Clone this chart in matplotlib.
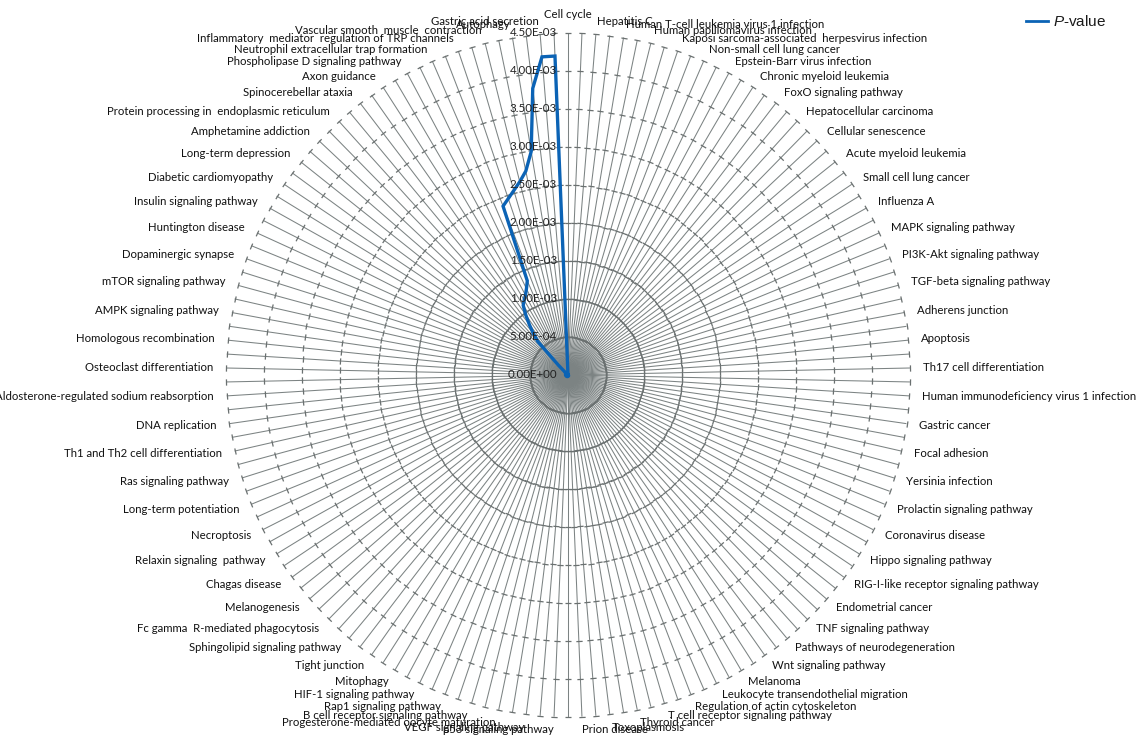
import numpy as np
import matplotlib
matplotlib.use("Agg")
import matplotlib.pyplot as plt
from matplotlib.lines import Line2D

plt.rcParams['mathtext.fontset'] = 'custom'
plt.rcParams['mathtext.it'] = 'Liberation Sans:italic'
plt.rcParams['mathtext.rm'] = 'Liberation Sans'

# Pathway labels shown on the chart (every other category is labelled)
labeled_pathways = [
    "Cell cycle", "Hepatitis C", "Human T-cell leukemia virus 1 infection",
    "Human papillomavirus infection", "Kaposi sarcoma-associated  herpesvirus infection",
    "Non-small cell lung cancer", "Epstein-Barr virus infection", "Chronic myeloid leukemia",
    "FoxO signaling pathway", "Hepatocellular carcinoma", "Cellular senescence",
    "Acute myeloid leukemia", "Small cell lung cancer", "Influenza A",
    "MAPK signaling pathway", "PI3K-Akt signaling pathway", "TGF-beta signaling pathway",
    "Adherens junction", "Apoptosis", "Th17 cell differentiation",
    "Human immunodeficiency virus 1 infection", "Gastric cancer", "Focal adhesion",
    "Yersinia infection", "Prolactin signaling pathway", "Coronavirus disease",
    "Hippo signaling pathway", "RIG-I-like receptor signaling pathway", "Endometrial cancer",
    "TNF signaling pathway", "Pathways of neurodegeneration", "Wnt signaling pathway",
    "Melanoma", "Leukocyte transendothelial migration", "Regulation of actin cytoskeleton",
    "T cell receptor signaling pathway", "Thyroid cancer", "Toxoplasmosis", "Prion disease",
    "p53 signaling pathway", "VEGF signaling pathway", "Progesterone-mediated oocyte maturation",
    "B cell receptor signaling pathway", "Rap1 signaling pathway", "HIF-1 signaling pathway",
    "Mitophagy", "Tight junction", "Sphingolipid signaling pathway",
    "Fc gamma  R-mediated phagocytosis", "Melanogenesis", "Chagas disease",
    "Relaxin signaling  pathway", "Necroptosis", "Long-term potentiation",
    "Ras signaling pathway", "Th1 and Th2 cell differentiation", "DNA replication",
    "Aldosterone-regulated sodium reabsorption", "Osteoclast differentiation",
    "Homologous recombination", "AMPK signaling pathway", "mTOR signaling pathway",
    "Dopaminergic synapse", "Huntington disease", "Insulin signaling pathway",
    "Diabetic cardiomyopathy", "Long-term depression", "Amphetamine addiction",
    "Protein processing in  endoplasmic reticulum", "Spinocerebellar ataxia", "Axon guidance",
    "Phospholipase D signaling pathway", "Neutrophil extracellular trap formation",
    "Inflammatory  mediator  regulation of TRP channels",
    "Vascular smooth  muscle  contraction", "Autophagy", "Gastric acid secretion",
]

# P-values for all 154 categories (most are ~0)
pvalues = [
    1.0e-11, 2.0e-10, 8.0e-10, 2.0e-09, 4.0e-09, 8.0e-09, 1.0e-08, 2.0e-08, 3.0e-08, 4.0e-08,
    6.0e-08, 8.0e-08, 1.0e-07, 1.0e-07, 2.0e-07, 2.0e-07, 2.0e-07, 3.0e-07, 3.0e-07, 4.0e-07,
    5.0e-07, 5.0e-07, 6.0e-07, 7.0e-07, 8.0e-07, 9.0e-07, 1.0e-06, 1.0e-06, 1.0e-06, 1.0e-06,
    2.0e-06, 2.0e-06, 2.0e-06, 2.0e-06, 2.0e-06, 3.0e-06, 3.0e-06, 3.0e-06, 3.0e-06, 4.0e-06,
    4.0e-06, 4.0e-06, 4.0e-06, 5.0e-06, 5.0e-06, 5.0e-06, 6.0e-06, 6.0e-06, 6.0e-06, 7.0e-06,
    7.0e-06, 7.0e-06, 8.0e-06, 8.0e-06, 9.0e-06, 9.0e-06, 1.0e-05, 1.0e-05, 1.0e-05, 1.1e-05,
    1.1e-05, 1.2e-05, 1.2e-05, 1.3e-05, 1.3e-05, 1.4e-05, 1.4e-05, 1.5e-05, 1.5e-05, 1.6e-05,
    1.6e-05, 1.7e-05, 1.7e-05, 1.8e-05, 1.8e-05, 1.9e-05, 1.9e-05, 2.0e-05, 2.0e-05, 2.0e-05,
    2.1e-05, 2.1e-05, 2.1e-05, 2.2e-05, 2.2e-05, 2.2e-05, 2.3e-05, 2.3e-05, 2.3e-05, 2.4e-05,
    2.4e-05, 2.4e-05, 2.5e-05, 2.5e-05, 2.5e-05, 2.6e-05, 2.6e-05, 2.6e-05, 2.7e-05, 2.7e-05,
    2.7e-05, 2.8e-05, 2.8e-05, 2.8e-05, 2.9e-05, 2.9e-05, 2.9e-05, 3.0e-05, 3.0e-05, 3.0e-05,
    3.1e-05, 3.1e-05, 3.1e-05, 3.2e-05, 3.2e-05, 3.2e-05, 3.3e-05, 3.3e-05, 3.3e-05, 3.4e-05,
    3.4e-05, 3.4e-05, 3.5e-05, 3.5e-05, 3.5e-05, 3.6e-05, 3.6e-05, 3.7e-05, 3.8e-05, 3.9e-05,
    4.0e-05, 4.0e-05, 4.0e-05, 4.0e-05, 4.0e-05, 1.8e-04, 5.9e-04, 7.2e-04, 8.4e-04, 9.7e-04,
    1.09e-03, 1.14e-03, 1.19e-03, 1.26e-03, 1.35e-03, 2.38e-03, 2.45e-03, 2.53e-03, 2.62e-03, 2.74e-03,
    2.98e-03, 3.80e-03, 4.20e-03, 4.20e-03,
]

r_ticks = [0.0, 5.0e-4, 1.0e-3, 1.5e-3, 2.0e-3, 2.5e-3, 3.0e-3, 3.5e-3, 4.0e-3, 4.5e-3]
r_tick_labels = ["0.00E+00", "5.00E-04", "1.00E-03", "1.50E-03", "2.00E-03",
                 "2.50E-03", "3.00E-03", "3.50E-03", "4.00E-03", "4.50E-03"]

series_name = r"$\mathit{P}$-value"
line_color = "#0b63b5"
grid_color = "#7c8383"
tick_color = "#6a7070"
label_font = "Lato"

N = len(pvalues)
categories = [labeled_pathways[i // 2] if i % 2 == 0 else "" for i in range(N)]
theta = 2 * np.pi * np.arange(N) / N

fig = plt.figure(figsize=(11.47, 7.38), dpi=100)
ax = fig.add_axes([0.197, 0.0285, 0.5964, 0.9268], projection='polar')
ax.set_theta_zero_location('N')
ax.set_theta_direction(-1)
ax.set_ylim(0, r_ticks[-1])
ax.set_xticks(theta)
ax.set_xticklabels([])
ax.set_yticks(r_ticks[1:])
ax.set_yticklabels([])
ax.xaxis.grid(True, color=grid_color, lw=0.75)
ax.yaxis.grid(False)
ax.spines['polar'].set_visible(False)
ax.tick_params(length=0)
ax.set_facecolor('white')

# tick marks across each spoke at each major unit
for t in theta:
    deg = np.degrees(t)
    ax.plot([t] * (len(r_ticks) - 1), r_ticks[1:], ls='none',
            marker=(2, 0, 90 - deg), ms=4.5, mec=tick_color, mew=0.9,
            clip_on=False, zorder=2)

# series line (closed)
th_closed = np.append(theta, theta[0])
pv_closed = np.append(pvalues, pvalues[0])
ax.plot(th_closed, pv_closed, color=line_color, lw=2.4, zorder=5,
        solid_joinstyle='miter', clip_on=False)

# radial value labels along the top spoke
for r, lab in zip(r_ticks, r_tick_labels):
    ax.annotate(lab, xy=(0, r), xytext=(-8, 0), textcoords='offset points',
                ha='right', va='center', fontsize=8.3, color='#222222',
                family=label_font, zorder=6)

# category labels
R_lab = r_ticks[-1] * 355 / 342
for t, lab in zip(theta, categories):
    if not lab:
        continue
    s, c = np.sin(t), np.cos(t)
    if s > 0.01:
        ha = 'left'
    elif s < -0.01:
        ha = 'right'
    else:
        ha = 'center'
    va = 'bottom' if (abs(s) <= 0.01 and c > 0) else 'center'
    ax.text(t, R_lab, lab, ha=ha, va=va, fontsize=8.2, color='#111111',
            family=label_font, clip_on=False)

# legend
fig.add_artist(Line2D([1026 / 1147, 1048 / 1147], [1 - 21 / 738] * 2,
                      color=line_color, lw=2, transform=fig.transFigure))
fig.text(1053 / 1147, 1 - 21 / 738, series_name, fontsize=11,
         family='Liberation Sans', va='center', ha='left', color='#1a1a1a')

fig.savefig("out.png", dpi=100, facecolor='white')
